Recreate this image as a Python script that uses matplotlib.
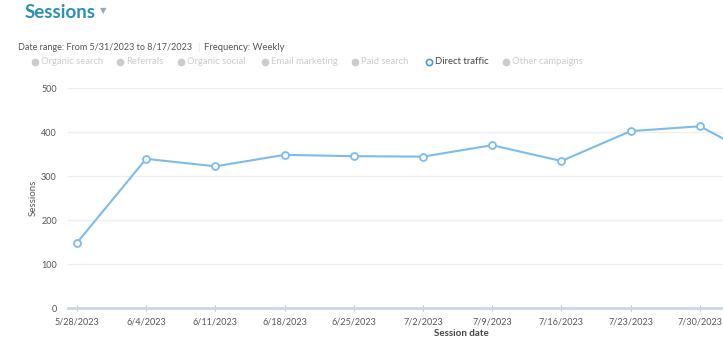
import matplotlib.pyplot as plt
import pandas as pd

weeks = pd.to_datetime(["2023-05-28", "2023-06-04", "2023-06-11", "2023-06-18",
                        "2023-06-25", "2023-07-02", "2023-07-09", "2023-07-16",
                        "2023-07-23", "2023-07-30", "2023-08-06"])
sessions = [148, 339, 322, 348, 345, 344, 370, 334, 402, 413, 330]
tick_labels = ["5/28/2023", "6/4/2023", "6/11/2023", "6/18/2023", "6/25/2023",
               "7/2/2023", "7/9/2023", "7/16/2023", "7/23/2023", "7/30/2023"]
sources = ["Organic search", "Referrals", "Organic social", "Email marketing",
           "Paid search", "Direct traffic", "Other campaigns"]
active = "Direct traffic"

plt.rcParams['font.family'] = ['Lato', 'DejaVu Sans']

line_color = "#7dbcea"
W, H = 723, 348
fig = plt.figure(figsize=(W / 100, H / 100), dpi=100)
ax = fig.add_axes([68 / W, 1 - 308 / H, 1 - 68 / W, 220 / H])

ax.plot(weeks, sessions, color=line_color, lw=1.5, marker="o", ms=5,
        mfc="white", mec=line_color, mew=1.3, zorder=3)

ax.set_ylim(0, 500)
ax.set_yticks([0, 100, 200, 300, 400, 500])
ax.set_xlim(weeks[0] - pd.Timedelta(days=0.9), weeks[0] + pd.Timedelta(days=7 * 9.335))
ax.set_xticks(weeks[:10])
ax.set_xticklabels(tick_labels)
ax.grid(axis="y", color="#eeeeee", lw=0.9)
ax.set_axisbelow(True)
for s in ["top", "right", "left"]:
    ax.spines[s].set_visible(False)
ax.spines["bottom"].set_color("#cbd6e2")
ax.spines["bottom"].set_linewidth(2)
ax.tick_params(axis="y", length=0, labelsize=6.5, labelcolor="#555555", pad=8)
ax.tick_params(axis="x", direction="inout", length=5, color="#b8c4d0",
               labelsize=6.5, labelcolor="#555555", pad=4)

fig.text(33 / W, 1 - 198 / H, "Sessions", rotation=90, ha="center", va="center",
         fontsize=7, color="#555555")
fig.text(461 / W, 1 - 334 / H, "Session date", ha="center", va="center",
         fontsize=7, fontweight="bold", color="#444444")

fig.text(25 / W, 1 - 12 / H, "Sessions", ha="left", va="center", fontsize=13.5,
         fontweight="bold", color="#2e8fb5")
fig.text(100 / W, 1 - 11 / H, "\u25BC", ha="left", va="center", fontsize=6,
         color="#99a8b8", family=["DejaVu Sans"])

fig.text(18 / W, 1 - 48 / H, "Date range: From 5/31/2023 to 8/17/2023", ha="left",
         va="center", fontsize=6.5, color="#555555")
fig.text(197 / W, 1 - 48 / H, "|", ha="left", va="center", fontsize=7, color="#e2e2e2")
fig.text(204 / W, 1 - 48 / H, "Frequency: Weekly", ha="left", va="center",
         fontsize=6.8, color="#555555")

marker_x = [35, 120, 181, 265, 355, 429, 506]
for name, mx in zip(sources, marker_x):
    if name == active:
        fig.lines.append(plt.Line2D([mx / W], [1 - 62 / H], marker="o", ms=4.5,
                                    mfc="white", mec="#4a9be0", mew=1.2,
                                    transform=fig.transFigure))
        tc = "#444444"
    else:
        fig.lines.append(plt.Line2D([mx / W], [1 - 62 / H], marker="o", ms=4.5,
                                    mfc="#cccccc", mec="#cccccc",
                                    transform=fig.transFigure))
        tc = "#cccccc"
    fig.text((mx + 6) / W, 1 - 62 / H, name, ha="left", va="center",
             fontsize=6.8, color=tc)

fig.savefig("out.png", dpi=100)
